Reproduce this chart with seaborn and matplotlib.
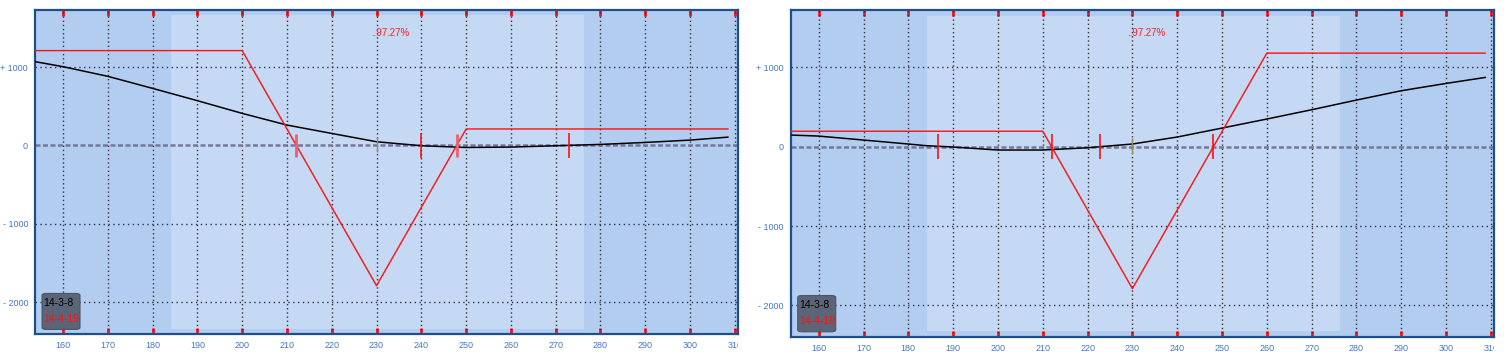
import numpy as np
import pandas as pd
import matplotlib
matplotlib.use("Agg")
import matplotlib.pyplot as plt
import seaborn as sns
from matplotlib.patches import FancyBboxPatch
from matplotlib.transforms import Bbox, TransformedBbox

# ---------------- data ----------------
x_ticks = [160, 170, 180, 190, 200, 210, 220, 230, 240, 250, 260, 270, 280, 290, 300, 310]
y_ticks = [-2000, -1000, 0, 1000]
y_tick_labels = ["- 2000", "- 1000", "0", "+ 1000"]

# left panel
left_expiry_x = [153.75, 200, 230, 250, 308.5]
left_expiry_y = [1210, 1210, -1790, 210, 210]
left_now_x = [153.75, 160, 170, 180, 190, 200, 210, 220, 230, 240, 250, 260, 270, 280, 290, 300, 308.5]
left_now_y = [1069, 1005, 882, 728, 571, 409, 260, 153, 47, -4, -26, -21, -4, 13, 38, 68, 106]
left_breakevens = [212.1, 247.9]
left_markers = [240.0, 273.0]

# right panel
right_expiry_x = [153.75, 210, 230, 260, 308.8]
right_expiry_y = [195, 195, -1790, 1180, 1180]
right_now_x = [153.75, 160, 170, 180, 184, 190, 200, 210, 220, 230, 240, 250, 260, 270, 280, 290, 300, 308.8]
right_now_y = [147, 134, 84, 34, 13, -4, -42, -42, -13, 34, 122, 235, 349, 466, 588, 706, 798, 874]
right_breakevens = [212.0, 248.0]
right_markers = [186.7, 222.8]

current_price = 230
probability_text = "..97.27%"
date_now = "14-3-8"
date_expiry = "14-4-19"

# ---------------- style ----------------
sns.set_style("white")
plt.rcParams['font.family'] = ['Liberation Sans', 'DejaVu Sans']

OUTER = "#b3cdf0"
INNER = "#c5d8f4"
SPINE = "#1c4f8c"
LABEL = "#4577cc"

fig = plt.figure(figsize=(15.09, 3.57), dpi=100)
ax_l = fig.add_axes([35/1509, 1-334.3/357, (738-35)/1509, (334.3-10)/357])
ax_r = fig.add_axes([790.7/1509, 1-336.7/357, (1494-790.7)/1509, (336.7-10)/357])


def draw_panel(ax, ex_x, ex_y, now_x, now_y, bes, marks, ylim, inner_y, be_style):
    ax.set_facecolor(OUTER)
    ax.set_xlim(153.75, 310.7)
    ax.set_ylim(*ylim)
    ax.axvspan(184.15, 276.4, ymin=inner_y[0], ymax=inner_y[1], color=INNER, lw=0, zorder=0)

    # grid
    for xv in x_ticks:
        ax.axvline(xv, color="#3b2f3a", lw=1.0, ls=(0, (1, 2)), zorder=1)
    for yv in y_ticks:
        if yv == 0:
            ax.axhline(0, color="#77779a", lw=1.8, ls=(0, (2, 1)), zorder=1)
        else:
            ax.axhline(yv, color="#2e2e55", lw=1.0, ls=(0, (1, 2.5)), zorder=1)

    df_now = pd.DataFrame({"price": now_x, "pl": now_y})
    df_ex = pd.DataFrame({"price": ex_x, "pl": ex_y})
    sns.lineplot(data=df_now, x="price", y="pl", color="black", lw=1.1, ax=ax, zorder=3)
    sns.lineplot(data=df_ex, x="price", y="pl", color="#ff1010", lw=1.0, ax=ax, zorder=4)

    # markers
    if be_style == "pink":
        ax.vlines(bes, -150, 150, color="#ee6070", lw=2.0, zorder=5)
    else:
        ax.vlines(bes, -155, 155, color="#ff1010", lw=1.2, zorder=5)
    ax.vlines(marks, -155, 155, color="#ff1010", lw=1.2, zorder=5)
    ax.vlines([current_price], -90, 110, color="#9c8a60", lw=1.0, zorder=5)

    ax.text(233, 1430, probability_text, color="#ff2020", fontsize=7, ha="center", va="center", zorder=6)

    # legend box
    box = FancyBboxPatch((0.010, 0.015), 0.054, 0.111, boxstyle="round,pad=0,rounding_size=0.006",
                         transform=ax.transAxes, facecolor="#5b6577", edgecolor="#4a5466", lw=0.8, zorder=7)
    ax.add_patch(box)
    ax.text(0.012, 0.0965, date_now, color="black", fontsize=7.5, transform=ax.transAxes, va="center", ha="left", zorder=8)
    ax.text(0.012, 0.047, date_expiry, color="#ff1010", fontsize=7.5, transform=ax.transAxes, va="center", ha="left", zorder=8)

    ax.set_xticks(x_ticks)
    ax.set_xticklabels([str(v) for v in x_ticks])
    ax.set_yticks(y_ticks)
    ax.set_yticklabels(y_tick_labels)
    ax.set_xlabel("")
    ax.set_ylabel("")
    ax.tick_params(axis="x", direction="in", length=4, width=2, color="#ff1010", top=True, bottom=True,
                   labelcolor=LABEL, labelsize=6.5, pad=5)
    ax.tick_params(axis="y", length=0, labelcolor=LABEL, labelsize=6.5, pad=5)
    for s in ax.spines.values():
        s.set_color(SPINE)
        s.set_linewidth(1.6)
        s.set_visible(True)
    ax.grid(False)
    # clip the last tick label at the axes edge
    clip = TransformedBbox(Bbox([[0, -1], [1, 1]]), ax.transAxes)
    for lab in ax.get_xticklabels():
        lab.set_clip_box(clip)
        lab.set_clip_on(True)


draw_panel(ax_l, left_expiry_x, left_expiry_y, left_now_x, left_now_y,
           left_breakevens, left_markers, (-2410, 1728), (0.016, 0.985), "pink")
draw_panel(ax_r, right_expiry_x, right_expiry_y, right_now_x, right_now_y,
           right_breakevens, right_markers, (-2396, 1724), (0.017, 0.982), "red")

fig.savefig("out.png", dpi=100)
